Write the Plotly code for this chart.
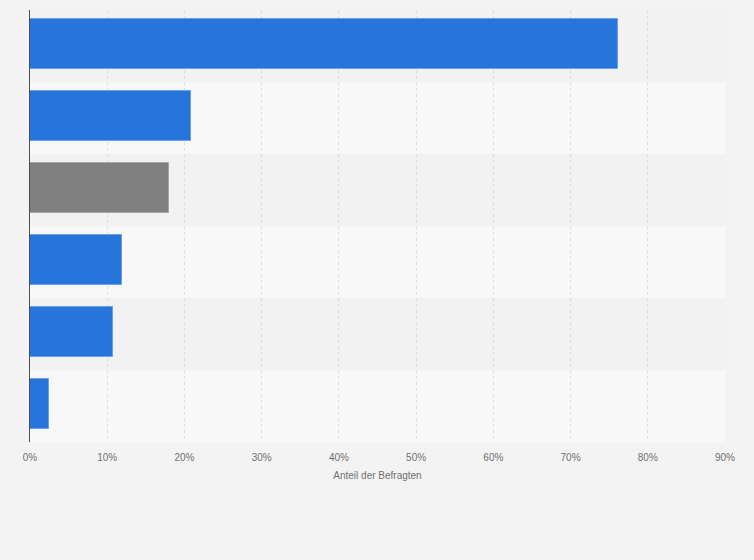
import plotly.graph_objects as go

positions = [0, 1, 2, 3, 4, 5]
values = [76.2, 20.8, 18.0, 11.85, 10.7, 2.4]
bar_colors = ["#2775db", "#2775db", "#808080", "#2775db", "#2775db", "#2775db"]
line_colors = ["#6aa0e8", "#6aa0e8", "#a6a6a6", "#6aa0e8", "#6aa0e8", "#6aa0e8"]
tick_vals = [0, 10, 20, 30, 40, 50, 60, 70, 80, 90]
tick_text = ["0%", "10%", "20%", "30%", "40%", "50%", "60%", "70%", "80%", "90%"]
axis_title = "Anteil der Befragten"

fig = go.Figure()
fig.add_trace(go.Bar(
    x=values, y=positions, orientation="h",
    width=0.69, offset=-0.37,
    marker=dict(color=bar_colors, line=dict(color=line_colors, width=1)),
    hoverinfo="x",
))

shapes = []
for i in positions:
    shapes.append(dict(
        type="rect", xref="paper", yref="y", x0=0, x1=1, y0=i - 0.5, y1=i + 0.5,
        fillcolor="#f2f2f2" if i % 2 == 0 else "#f8f8f8",
        line=dict(width=0), layer="below",
    ))

fig.update_layout(
    width=754, height=560,
    margin=dict(l=30, r=29, t=10, b=118),
    paper_bgcolor="#f3f3f3", plot_bgcolor="#f3f3f3",
    showlegend=False, shapes=shapes, bargap=0,
    font=dict(family="Liberation Sans, Arial, sans-serif", size=10, color="#666666"),
    xaxis=dict(
        range=[0, 90], tickvals=tick_vals, ticktext=tick_text,
        showgrid=True, gridcolor="#dedede", griddash="dot", gridwidth=1,
        zeroline=False, showline=False,
        ticks="outside", ticklen=6, tickcolor="rgba(0,0,0,0)",
        tickfont=dict(size=10, color="#707070"),
        title=dict(text=axis_title, font=dict(size=10, color="#707070"), standoff=9),
    ),
    yaxis=dict(
        range=[5.5, -0.5], showticklabels=False, showgrid=False, zeroline=False,
        showline=True, linecolor="#4d4d4d", linewidth=1, layer="above traces",
        ticks="",
    ),
)

fig.write_html(
    "out.html",
    config={"displayModeBar": False},
    post_script="document.body.style.margin='0';document.body.style.background='#f3f3f3';",
)
